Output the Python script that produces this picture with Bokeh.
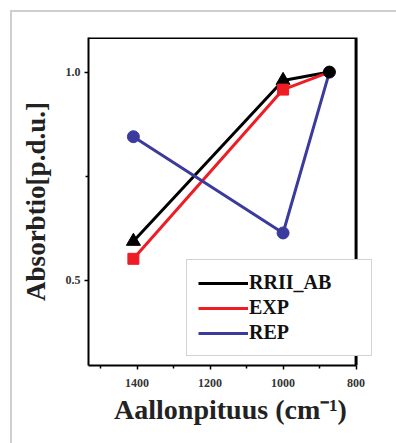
from bokeh.plotting import figure
from bokeh.models import Legend, LegendItem, FixedTicker, Range1d
from bokeh.embed import file_html
from bokeh.resources import INLINE

wavenumbers = [1410, 1000, 873]
rrii_ab = [0.594, 0.980, 1.000]
exp_vals = [0.552, 0.958, 1.000]
rep_vals = [0.845, 0.614, 1.000]
series_names = ["RRII_AB", "EXP", "REP"]
x_ticks = [1400, 1200, 1000, 800]
y_ticks = [0.5, 1.0]

X_START, X_END = 1533, 800      # visible box of the axes
Y_START, Y_END = 0.296, 1.083

FONT = "Liberation Serif"

p = figure(width=396, height=443, output_backend="svg", toolbar_location=None,
           x_range=Range1d(X_START, 755), y_range=Range1d(Y_START, Y_END),
           min_border_left=88, min_border_right=24, min_border_top=37, min_border_bottom=78)
p.xgrid.visible = False
p.ygrid.visible = False
p.outline_line_color = None
p.background_fill_color = "white"
p.border_fill_alpha = 0
p.background_fill_alpha = 0
p.styles = {
    "background-color": "white",
    "background-image": "linear-gradient(#cfcfcf,#cfcfcf), linear-gradient(#cfcfcf,#cfcfcf)",
    "background-size": "100% 2px, 2px 100%",
    "background-position": "10px 10px, 10px 10px",
    "background-repeat": "no-repeat",
}

for ax in (p.xaxis[0], p.yaxis[0]):
    ax.axis_line_color = "black"
    ax.axis_line_width = 2
    ax.major_tick_in = 0
    ax.major_tick_out = 4
    ax.minor_tick_in = 0
    ax.minor_tick_out = 3
    ax.major_tick_line_width = 1.5
    ax.minor_tick_line_width = 1.5
    ax.major_label_text_font = FONT
    ax.major_label_text_font_style = "bold"
    ax.major_label_text_font_size = "12px"
    ax.major_label_text_color = "#333333"
    ax.axis_label_text_font = FONT
    ax.axis_label_text_font_style = "bold"
    ax.axis_label_text_color = "#222222"

p.xaxis.bounds = (X_START, X_END)
p.xaxis.ticker = FixedTicker(ticks=x_ticks, minor_ticks=[1500, 1300, 1100, 900])
p.yaxis.ticker = FixedTicker(ticks=y_ticks, minor_ticks=[0.75])
p.xaxis.major_label_overrides = {t: str(t) for t in x_ticks}
p.yaxis.major_label_overrides = {0.5: "0.5", 1.0: "1.0"}
p.xaxis.axis_label = "Aallonpituus (cm⁻¹)"
p.yaxis.axis_label = "Absorbtio[p.d.u.]"
p.xaxis.axis_label_text_font_size = "28px"
p.yaxis.axis_label_text_font_size = "27px"
p.xaxis.major_label_standoff = 9
p.yaxis.major_label_standoff = 4
p.xaxis.axis_label_standoff = 4
p.yaxis.axis_label_standoff = 12

# top and right sides of the axes box
p.line([X_START, X_END, X_END], [Y_END, Y_END, Y_START], line_color="black", line_width=3)

colors = ["black", "#ee1c24", "#3b3b9e"]
series = [rrii_ab, exp_vals, rep_vals]
items = []
for name, vals, c in zip(series_names, series, colors):
    r = p.line(wavenumbers, vals, line_color=c, line_width=3)
    items.append(LegendItem(label=name, renderers=[r]))

p.scatter(wavenumbers[:2], rrii_ab[:2], marker="triangle", size=14, color=colors[0])
p.scatter(wavenumbers[:2], exp_vals[:2], marker="square", size=11, color=colors[1])
p.scatter(wavenumbers[:2], rep_vals[:2], marker="circle", size=12, color=colors[2])
p.scatter(wavenumbers[2:], [1.0], marker="circle", size=12, color="black")

legend = Legend(items=items, location=(98, 9), glyph_width=50, glyph_height=20,
                label_height=20,
                label_text_font=FONT, label_text_font_style="bold",
                label_text_font_size="20px", label_text_color="#111111",
                label_standoff=1, label_width=111, spacing=2, padding=11, margin=0,
                border_line_color="#a8a8a8", border_line_width=1,
                background_fill_color="white", background_fill_alpha=1)
p.add_layout(legend, "center")

open("out.html", "w").write(file_html(p, INLINE))
